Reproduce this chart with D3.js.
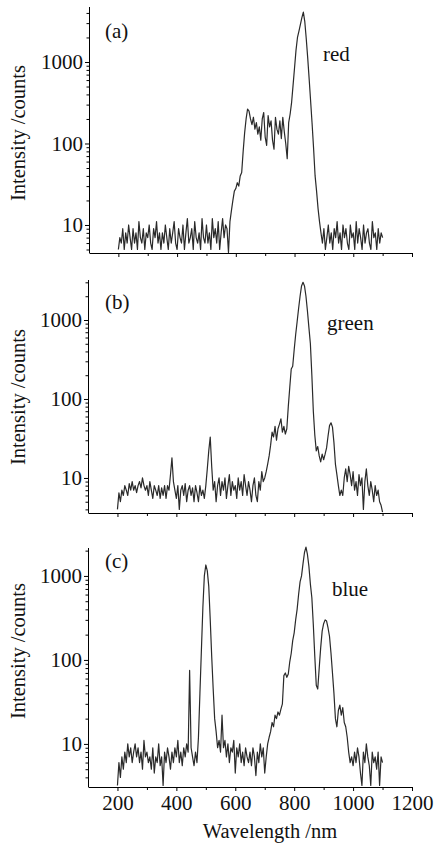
<!DOCTYPE html>
<html><head><meta charset="utf-8">
<script src="https://cdn.jsdelivr.net/npm/d3@7/dist/d3.min.js"></script>
<style>html,body{margin:0;padding:0;background:#fff;} svg{display:block;} text{font-family:"Liberation Serif",serif;}</style>
</head><body>
<svg id="chart" width="438" height="852"></svg>
<script>
// Sampling grid (nm)
const wavelengths = d3.range(200, 1101, 5);

// Panel (a) red
const redValues = [
  5,7,6,9,5,8,6,10,7,5,
  9,6,8,5,11,7,6,9,5,8,
  7,10,6,5,9,7,11,6,8,5,
  8,6,10,7,5,9,6,8,11,6,
  5,9,7,6,10,5,8,12,6,7,
  9,5,11,7,6,8,5,12,7,6,
  10,6,8,5,12,7,9,6,11,5,
  8,12,7,10,9,4.6,11,15,20,26,
  28,33,30,40,44,80,135,200,265,250,
  200,170,210,150,180,130,160,110,200,240,
  120,95,220,160,190,110,85,210,150,130,
  190,115,210,140,100,65,180,230,320,520,
  850,1400,2000,2400,2900,3500,4100,3100,1900,1100,
  600,320,170,85,40,26,16,11,8,6,
  9,5,7,10,6,8,5,9,7,11,
  6,8,5,10,7,9,6,5,10,7,
  8,5,11,6,9,7,5,10,6,8,
  9,6,5,11,7,8,5,9,6,8,
  7
];

// Panel (b) green
const greenValues = [
  4,6.5,5,7,6,8,7,6,8.5,7,
  9,7,8,6.5,8,9,7.5,10,8,7,
  8,6,9,7,5.5,8,7,6,8,5.5,
  7.5,6,8,5.5,8,7,11,18,9,7,
  5.5,8,4,7,8,6,8.5,5,7,8,
  6,7.5,5,8,6.5,5,8,6,7,5.5,
  8,13,22,33,14,7,9,5,8,10,
  6,9,7,10,5.5,8,11,6,9,7,
  8,5.5,10,7,9,6,11,8,6,9,
  7,5,8,10,6,5,9,7,12,9,
  10,12,15,19,26,38,33,45,30,42,
  48,56,38,45,36,42,80,140,240,260,
  420,650,950,1400,2000,2700,3000,2700,2000,1300,
  800,500,200,70,35,22,25,19,16,20,
  17,20,24,34,46,50,44,28,15,11,
  8,6,7,6,10,13,9,14,11,8,
  12,7,9,6,11,8,10,4,9,13,
  8,6,9,7,5,8,6,7,5,4.5,
  3.7
];

// Panel (c) blue
const blueValues = [
  3.2,6,4,7,5,8,6,10,7,9,
  6,8,10,7,9,6,8,5,11,7,
  8,6,7,5,9,4.5,7,6,10,5.5,
  7,3.2,8,6,9,7,5,8,6,9,
  7,11,6,8,5.5,9,7,10,8,75,
  9,7,5.5,8,6,12,40,130,420,1000,
  1350,1150,750,300,110,45,20,14,9,11,
  8,22,9,11,7,10,6,9,8,11,
  4.5,9,7,10,6,8,5.5,9,7,6,
  8,5.5,9,7,4.2,8,6,10,7,9,
  4.5,7,10,12,14,18,16,22,20,24,
  22,26,30,65,70,62,68,95,120,170,
  210,300,400,600,850,1000,1400,1900,2200,1800,
  1300,800,550,260,110,50,45,80,140,220,
  270,300,290,240,190,120,70,40,20,16,
  25,29,22,27,18,16,12,8,6,7,
  5.5,8,6,9,7,4.5,3.2,8,6,10,
  7,5.5,3.2,8,6,7,5,8,3.2,7,
  6
];

const xTickValues = [200, 400, 600, 800, 1000, 1200];
const xMinorTickValues = [300, 500, 700, 900, 1100];
const yTickLabels = [10, 100, 1000];
const panelLabels = ["(a)", "(b)", "(c)"];
const seriesNames = ["red", "green", "blue"];
const xTitle = "Wavelength /nm";
const yTitle = "Intensity /counts";

// Layout (positions only)
const layout = [
  {left: 89, top: 7,   bottom: 253, yDomain: [4.53, 4730], labelY: 38,  nameX: 323, nameY: 61,  titleY: 133},
  {left: 88, top: 280, bottom: 513, yDomain: [3.6, 3210],  labelY: 309, nameX: 327, nameY: 330, titleY: 397},
  {left: 88, top: 548, bottom: 787, yDomain: [3.07, 2150], labelY: 568, nameX: 332, nameY: 596, titleY: 651}
];
const xRight = 412;
const seriesList = [redValues, greenValues, blueValues];
const FONT = "Liberation Serif";

const svg = d3.select("#chart");

layout.forEach((p, i) => {
  const x = d3.scaleLinear().domain([100, 1200]).range([p.left, xRight]);
  const y = d3.scaleLog().domain(p.yDomain).range([p.bottom, p.top]);
  const g = svg.append("g");

  const minorY = [];
  [1, 10, 100, 1000].forEach(dec => {
    for (let k = 2; k <= 9; k++) {
      const v = dec * k;
      if (v >= p.yDomain[0] && v <= p.yDomain[1]) minorY.push(v);
    }
  });
  g.append("g").attr("transform", `translate(${p.left},0)`)
    .call(d3.axisLeft(y).tickValues(minorY).tickSize(2.5).tickFormat(""))
    .call(s => s.select(".domain").remove());

  const ya = g.append("g").attr("transform", `translate(${p.left},0)`)
    .call(d3.axisLeft(y).tickValues(yTickLabels).tickSize(4).tickPadding(2)
      .tickFormat(d3.format("d")).tickSizeOuter(0));
  ya.attr("font-family", FONT);
  ya.selectAll("text").attr("font-family", FONT).attr("font-size", 21).attr("fill", "#111");
  ya.select(".domain").attr("d", `M0.5,${p.top}V${p.bottom}`);

  const xa = g.append("g").attr("transform", `translate(0,${p.bottom})`)
    .call(d3.axisBottom(x).tickValues(xTickValues).tickSize(4).tickPadding(4)
      .tickFormat(i === 2 ? d3.format("d") : "").tickSizeOuter(0));
  xa.attr("font-family", FONT);
  xa.selectAll("text").attr("font-family", FONT).attr("font-size", 21).attr("fill", "#111");
  g.append("g").attr("transform", `translate(0,${p.bottom})`)
    .call(d3.axisBottom(x).tickValues(xMinorTickValues).tickSize(3).tickFormat("").tickSizeOuter(0))
    .call(s => s.select(".domain").remove());

  const data = wavelengths.map((w, j) => [w, seriesList[i][j]]);
  const line = d3.line().x(d => x(d[0])).y(d => y(d[1]));
  g.append("path").datum(data).attr("d", line)
    .attr("fill", "none").attr("stroke", "#2a2a2a").attr("stroke-width", 1.2)
    .attr("stroke-linejoin", "round");

  g.append("text").attr("x", 105).attr("y", p.labelY).text(panelLabels[i])
    .attr("font-family", FONT).attr("font-size", 21).attr("fill", "#111");
  g.append("text").attr("x", p.nameX).attr("y", p.nameY).text(seriesNames[i])
    .attr("font-family", FONT).attr("font-size", 21).attr("fill", "#111");
  g.append("text").attr("transform", `translate(25,${p.titleY}) rotate(-90)`)
    .attr("text-anchor", "middle").text(yTitle)
    .attr("font-family", FONT).attr("font-size", 20.5).attr("fill", "#111");
});

svg.append("text").attr("x", 270).attr("y", 838).attr("text-anchor", "middle")
  .text(xTitle).attr("font-family", FONT).attr("font-size", 20.5).attr("fill", "#111");
</script>
</body></html>
